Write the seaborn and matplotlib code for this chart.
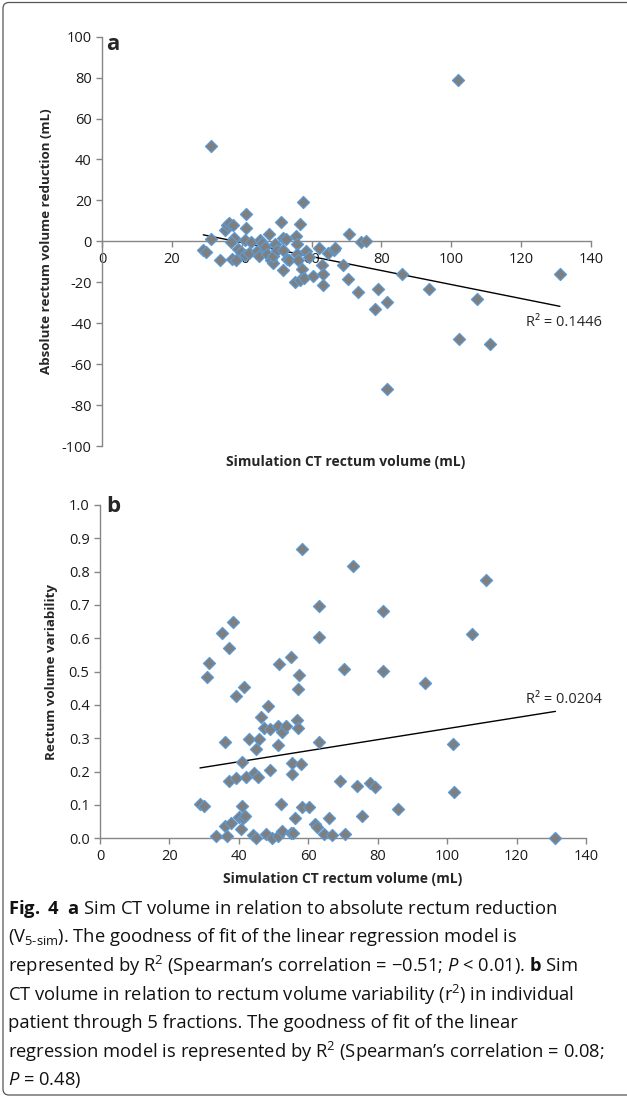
import numpy as np
import matplotlib
matplotlib.use("Agg")
import matplotlib.pyplot as plt
import seaborn as sns
from matplotlib.patches import FancyBboxPatch

# Panel a: simulation CT volume (mL) vs absolute rectum volume reduction (mL)
sim_ct_a = [29.0, 29.8, 31.1, 31.3, 33.8, 35.2, 35.9, 36.5, 37.6, 37.7,
            37.0, 37.1, 38.4, 38.9, 39.7, 40.9, 41.0, 41.2, 41.2, 42.2,
            42.7, 44.3, 45.0, 45.2, 45.9, 46.7, 47.3, 47.9, 48.5, 48.9,
            49.0, 49.5, 50.2, 51.3, 51.7, 51.7, 51.9, 52.7, 53.0, 53.6,
            55.3, 55.5, 55.9, 55.9, 56.2, 56.7, 56.7, 57.2, 57.5, 57.9,
            58.4, 59.3, 60.3, 62.2, 62.9, 63.2, 63.2, 64.8, 66.4, 66.8,
            69.1, 70.6, 70.5, 73.2, 74.1, 75.5, 78.2, 79.0, 81.5, 81.5,
            85.9, 93.6, 101.8, 102.2, 107.3, 111.1, 131.1]
reduction_a = [-4.4, -5.4, 46.5, 1.3, -8.9, 5.4, 8.1, 8.9, 7.8, 1.6,
               -0.3, -8.4, -9.3, -3.6, -5.2, -6.8, 0.8, 13.5, 6.7, -5.7,
               -0.5, -4.9, -7.3, 0.8, -0.8, -2.8, -6.0, 3.6, -9.3, -10.6,
               -7.3, -1.1, -4.4, 9.3, 1.8, -14.1, -4.0, 1.3, -8.4, -9.3,
               -19.8, 2.6, -1.1, -6.0, -8.9, 8.3, -18.7, -13.3, 19.2, -17.7,
               -4.7, -7.6, -16.7, -3.4, -11.4, -16.1, -21.5, -5.7, -4.0, -3.1,
               -11.4, 3.4, -18.4, -24.7, -0.3, 0.0, -33.3, -23.3, -29.8, -72.0,
               -15.9, -23.4, 78.9, -47.6, -28.3, -50.2, -15.9]

# Panel b: simulation CT volume (mL) vs rectum volume variability (r^2)
sim_ct_b = [28.8, 29.9, 30.7, 31.3, 33.5, 35.2, 35.9, 36.0, 36.7, 37.1,
            37.3, 37.7, 38.2, 39.1, 39.1, 40.0, 40.6, 40.8, 41.0, 41.2,
            41.4, 41.9, 42.1, 42.8, 44.0, 44.4, 44.8, 44.9, 45.6, 45.7,
            46.3, 47.3, 47.8, 48.3, 49.1, 49.1, 49.5, 51.2, 51.3, 51.4,
            51.5, 52.2, 52.4, 52.5, 53.6, 55.0, 55.1, 55.3, 55.3, 55.7,
            56.1, 56.7, 56.9, 56.9, 57.3, 57.8, 58.1, 58.1, 60.2, 62.0,
            62.5, 63.1, 63.1, 63.1, 64.6, 66.0, 66.8, 69.2, 70.3, 70.5,
            73.0, 74.1, 75.4, 77.8, 79.2, 81.4, 81.4, 85.7, 93.7, 101.8,
            102.1, 107.2, 111.2, 131.2]
variability_b = [0.103, 0.098, 0.483, 0.526, 0.008, 0.616, 0.037, 0.290, 0.008, 0.173,
                 0.572, 0.045, 0.650, 0.182, 0.426, 0.064, 0.027, 0.228, 0.096, 0.060,
                 0.455, 0.066, 0.185, 0.297, 0.011, 0.197, 0.269, 0.000, 0.184, 0.299,
                 0.365, 0.330, 0.014, 0.398, 0.327, 0.205, 0.000, 0.006, 0.279, 0.337,
                 0.522, 0.103, 0.023, 0.319, 0.338, 0.016, 0.544, 0.227, 0.194, 0.015,
                 0.060, 0.355, 0.331, 0.449, 0.491, 0.224, 0.093, 0.868, 0.093, 0.043,
                 0.035, 0.698, 0.604, 0.288, 0.013, 0.060, 0.010, 0.172, 0.507, 0.013,
                 0.816, 0.156, 0.068, 0.165, 0.153, 0.501, 0.683, 0.087, 0.466, 0.283,
                 0.140, 0.614, 0.776, 0.001]

r2_labels = ["R\u00b2 = 0.1446", "R\u00b2 = 0.0204"]

caption_lines = [
    r"$\mathbf{Fig.\ 4}$  $\mathbf{a}$ Sim CT volume in relation to absolute rectum reduction",
    r"(V$_{\mathrm{5\text{-}sim}}$). The goodness of fit of the linear regression model is",
    r"represented by R$^{2}$ (Spearman’s correlation = −0.51; $\mathit{P}$ < 0.01). $\mathbf{b}$ Sim",
    r"CT volume in relation to rectum volume variability (r$^{2}$) in individual",
    r"patient through 5 fractions. The goodness of fit of the linear",
    r"regression model is represented by R$^{2}$ (Spearman’s correlation = 0.08;",
    r"$\mathit{P}$ = 0.48)",
]

sns.set_theme(style="white")
plt.rcParams['font.family'] = ['Open Sans', 'DejaVu Sans']
plt.rcParams['axes.unicode_minus'] = False
plt.rcParams['mathtext.fontset'] = 'custom'
plt.rcParams['mathtext.rm'] = 'Open Sans'
plt.rcParams['mathtext.it'] = 'Open Sans:italic'
plt.rcParams['mathtext.bf'] = 'Open Sans:bold'

W, H = 627, 1098
fig = plt.figure(figsize=(W / 100, H / 100), dpi=100)

AXIS_GRAY = '#868686'
PT_FILL = '#7f7f7f'
PT_EDGE = '#5b9bd5'


def style_axis(ax):
    for side in ['top', 'right']:
        ax.spines[side].set_visible(False)
    for side in ['left', 'bottom']:
        ax.spines[side].set_color(AXIS_GRAY)
        ax.spines[side].set_linewidth(1.0)
    ax.tick_params(axis='both', direction='out', length=4, width=1, color=AXIS_GRAY,
                   labelsize=10.5, labelcolor='#1a1a1a', left=True, bottom=True)


def draw_panel(ax, x, y):
    sns.regplot(x=x, y=y, ax=ax, scatter=False, ci=None, truncate=True,
                line_kws=dict(color='black', lw=1.0, zorder=2))
    sns.scatterplot(x=x, y=y, ax=ax, marker='D', s=38, color=PT_FILL,
                    edgecolor=PT_EDGE, linewidth=0.9, zorder=3, clip_on=False)


# ---- panel a
ax_a = fig.add_axes([102 / W, 1 - 446 / H, 489 / W, (446 - 36.7) / H])
draw_panel(ax_a, sim_ct_a, reduction_a)
ax_a.set_xlim(0, 140)
ax_a.set_ylim(-100, 100)
ax_a.set_xticks(range(0, 141, 20))
ax_a.set_yticks(range(-100, 101, 20))
style_axis(ax_a)
ax_a.spines['bottom'].set_position(('data', 0))
ax_a.set_xlabel('')
ax_a.set_ylabel('Absolute rectum volume reduction (mL)', fontsize=9.6, fontweight='bold',
                labelpad=6)
ax_a.text(121.5, -39.5, r2_labels[0], fontsize=10.5, va='center', ha='left')
fig.text(346 / W, 1 - 462 / H, 'Simulation CT rectum volume (mL)', fontsize=10,
         fontweight='bold', ha='center', va='center')
fig.text(106 / W, 1 - 45 / H, 'a', fontsize=16, fontweight='bold', ha='left', va='center')

# ---- panel b
ax_b = fig.add_axes([100 / W, 1 - 838.3 / H, 486 / W, (838.3 - 505) / H])
draw_panel(ax_b, sim_ct_b, variability_b)
ax_b.set_xlim(0, 140)
ax_b.set_ylim(0, 1.0)
ax_b.set_xticks(range(0, 141, 20))
ax_b.set_yticks(np.arange(0, 1.01, 0.1))
ax_b.set_yticklabels([f"{v:.1f}" for v in np.arange(0, 1.01, 0.1)])
style_axis(ax_b)
ax_b.set_xlabel('Simulation CT rectum volume (mL)', fontsize=10, fontweight='bold', labelpad=6)
ax_b.set_ylabel('Rectum volume variability', fontsize=9.6, fontweight='bold', labelpad=8)
ax_b.text(122.8, 0.415, r2_labels[1], fontsize=10.5, va='center', ha='left')
fig.text(106 / W, 1 - 507 / H, 'b', fontsize=16, fontweight='bold', ha='left', va='center')

# ---- caption
for i, line in enumerate(caption_lines):
    fig.text(8 / W, 1 - (909 + 28.5 * i) / H, line, fontsize=13.2, ha='left', va='center',
             color='#111111')

# ---- frame round the figure (left/top edges visible)
frame = FancyBboxPatch((0.03, 0.03), 8.0, H / 100 - 0.055,
                       boxstyle='round,pad=0,rounding_size=0.06',
                       transform=fig.dpi_scale_trans, fill=False,
                       edgecolor='#555555', lw=0.9)
fig.add_artist(frame)

fig.savefig('out.png', dpi=100)
